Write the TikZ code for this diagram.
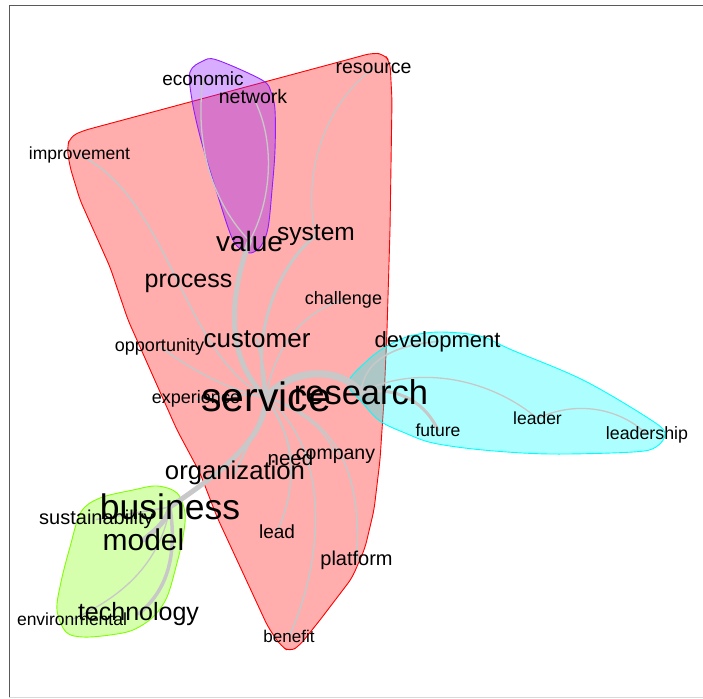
\documentclass[tikz,border=0pt]{standalone}
\usepackage{fontspec}
\setmainfont{Liberation Sans}
\pgfdeclarelayer{paper}
\pgfdeclarelayer{hull}
\pgfdeclarelayer{edges}
\pgfsetlayers{paper,hull,edges,main}
\definecolor{edgegray}{RGB}{200,200,200}
\definecolor{hredline}{RGB}{255,0,0}
\definecolor{hredfill}{RGB}{255,0,0}
\definecolor{hpurline}{RGB}{145,30,255}
\definecolor{hpurfill}{RGB}{147,25,255}
\definecolor{hcyanline}{RGB}{0,255,255}
\definecolor{hcyanfill}{RGB}{0,255,255}
\definecolor{hgrnline}{RGB}{127,255,0}
\definecolor{hgrnfill}{RGB}{127,255,0}
\begin{document}
\begin{tikzpicture}[x=1pt,y=-1pt,
  lbl/.style={inner sep=0pt, text=black, font=\fontsize{#1}{#1}\selectfont},
  conn/.style={draw=edgegray, line width=#1, line cap=round},
  conn/.default=1.3pt,
  hullstyle/.style={line width=0.9pt}]
\useasboundingbox (0,0) rectangle (703,698);
\begin{pgfonlayer}{paper}
\fill[white] (0,0) rectangle (703,698);
% frame
\draw[gray!70!black, line width=0.9pt] (9,698) -- (9,5.5) -- (703,5.5);
\draw[gray!30, line width=0.9pt] (9,697) -- (703,697);
\end{pgfonlayer}

% labels
\node[lbl=19] (economic) at (203,79) {economic};
\node[lbl=19.5] (network) at (253,97) {network};
\node[lbl=19.5] (resource) at (373.5,68) {resource};
\node[lbl=17.5] (improvement) at (79.5,155) {improvement};
\node[lbl=28] (value) at (249.5,241) {value};
\node[lbl=24.5] (system) at (316,235) {system};
\node[lbl=25] (process) at (188.5,283) {process};
\node[lbl=18] (challenge) at (343.5,300) {challenge};
\node[lbl=26] (customer) at (257,339) {customer};
\node[lbl=18] (opportunity) at (159.5,346.5) {opportunity};
\node[lbl=22] (development) at (437.5,341.5) {development};
\node[lbl=18] (experience) at (196,399) {experience};
\node[lbl=41] (service) at (266,397) {service};
\node[lbl=34.5] (research) at (361,392) {research};
\node[lbl=17.5] (future) at (438,430) {future};
\node[lbl=17.5] (leader) at (537.5,418.5) {leader};
\node[lbl=17.8] (leadership) at (647,434.5) {leadership};
\node[lbl=20.5] (need) at (290.5,458.5) {need};
\node[lbl=19.5] (company) at (335.5,456) {company};
\node[lbl=25.7] (organization) at (235,473) {organization};
\node[lbl=35.5] (business) at (170,507) {business};
\node[lbl=20] (sustainability) at (96.5,519.5) {sustainability};
\node[lbl=30] (model) at (143.5,540) {model};
\node[lbl=19] (lead) at (277,531.5) {lead};
\node[lbl=20] (platform) at (356.5,560) {platform};
\node[lbl=25] (technology) at (138.5,614) {technology};
\node[lbl=17.5] (environmental) at (72,619.5) {environmental};
\node[lbl=17] (benefit) at (289,636.5) {benefit};

% hulls
\begin{pgfonlayer}{hull}
\draw[hullstyle, draw=hredline, fill=hredfill, fill opacity=0.32, rounded corners=7pt]
  (67,148) -- (70,137) -- (82,131) -- (350,59) -- (372,53) -- (384,54) -- (390,62)
  -- (392,100) -- (390,230) -- (387,330) -- (384,400) -- (380,460) -- (374,510)
  -- (365,548) -- (352,578) -- (320,620) -- (300,645) -- (290,652) -- (281,646)
  -- (268,627) -- (230,545) -- (217,517) -- (200,473) -- (177,430) -- (128,320)
  -- (110,267) -- (80,200) -- (70,167) -- cycle;
\draw[hullstyle, draw=hpurline, fill=hpurfill, fill opacity=0.36]
  plot[smooth cycle, tension=0.55] coordinates {(190,72) (203,61) (217,60) (262,80) (271,92)
  (275,110) (275,150) (272,190) (268,228) (261,246) (251,253) (242,250) (232,238)
  (217,193) (201,140) (192,100)};
\draw[hullstyle, draw=hcyanline, fill=hcyanfill, fill opacity=0.32]
  plot[smooth cycle, tension=0.55] coordinates {(348,383) (368,360) (387,346) (410,336)
  (440,332) (480,336) (512,350) (583,380) (648,418) (665,433) (656,447) (633,452)
  (550,454) (483,450) (433,443) (405,433) (380,421) (362,402)};
\draw[hullstyle, draw=hgrnline, fill=hgrnfill, fill opacity=0.32]
  plot[smooth cycle, tension=0.55] coordinates {(57,610) (61,582) (70,547) (81,512)
  (100,498) (133,490) (157,486) (177,493) (185,513) (183,537) (177,563) (167,597)
  (153,617) (133,630) (110,635) (83,637) (66,632)};
\end{pgfonlayer}

% connectors
\begin{pgfonlayer}{edges}
\draw[conn] (economic.center) .. controls (194,150) and (215,205) .. (value.center);
\draw[conn] (network.center) .. controls (276,140) and (272,200) .. (value.center);
\draw[conn=5pt] (value.center) .. controls (228,300) and (226,360) .. (service.center);
\draw[conn=3pt] (system.center) .. controls (272,272) and (252,340) .. (service.center);
\draw[conn] (resource.center) .. controls (318,110) and (303,185) .. (system.center);
\draw[conn=1.6pt] (improvement.center) .. controls (170,198) and (182,355) .. (service.center);
\draw[conn=1.6pt] (challenge.center) .. controls (300,312) and (274,350) .. (service.center);
\draw[conn=1.6pt] (opportunity.center) .. controls (195,372) and (232,392) .. (service.center);
\draw[conn=1.6pt] (experience.center) .. controls (220,396) and (245,393) .. (service.center);
\draw[conn=2.5pt] (customer.center) .. controls (262,360) and (266,380) .. (service.center);
\draw[conn=7pt] (service.center) .. controls (292,368) and (338,366) .. (research.center);
\draw[conn=1.6pt] (research.center) .. controls (364,360) and (395,345) .. (development.center);
\draw[conn=3pt] (research.center) .. controls (402,386) and (426,405) .. (future.center);
\draw[conn] (research.center) .. controls (420,363) and (492,380) .. (leader.center);
\draw[conn] (leader.center) .. controls (576,400) and (620,408) .. (leadership.center);
\draw[conn=1.6pt] (service.center) .. controls (280,420) and (290,440) .. (need.center);
\draw[conn=1.6pt] (service.center) .. controls (300,410) and (328,430) .. (company.center);
\draw[conn=1.6pt] (service.center) .. controls (298,440) and (296,492) .. (lead.center);
\draw[conn=1.6pt] (service.center) .. controls (342,420) and (362,480) .. (platform.center);
\draw[conn=1.6pt] (service.center) .. controls (334,452) and (322,565) .. (benefit.center);
\draw[conn=2pt] (organization.center) .. controls (250,440) and (262,420) .. (service.center);
\draw[conn=5pt] (service.center) .. controls (266,442) and (212,478) .. (business.center);
\draw[conn=5pt] (business.center) .. controls (165,525) and (152,532) .. (model.center);
\draw[conn=3.5pt] (business.center) .. controls (178,560) and (165,592) .. (technology.center);
\draw[conn] (business.center) .. controls (160,565) and (120,598) .. (environmental.center);
\draw[conn=1.6pt] (business.center) -- (sustainability.center);
\end{pgfonlayer}
\end{tikzpicture}
\end{document}
